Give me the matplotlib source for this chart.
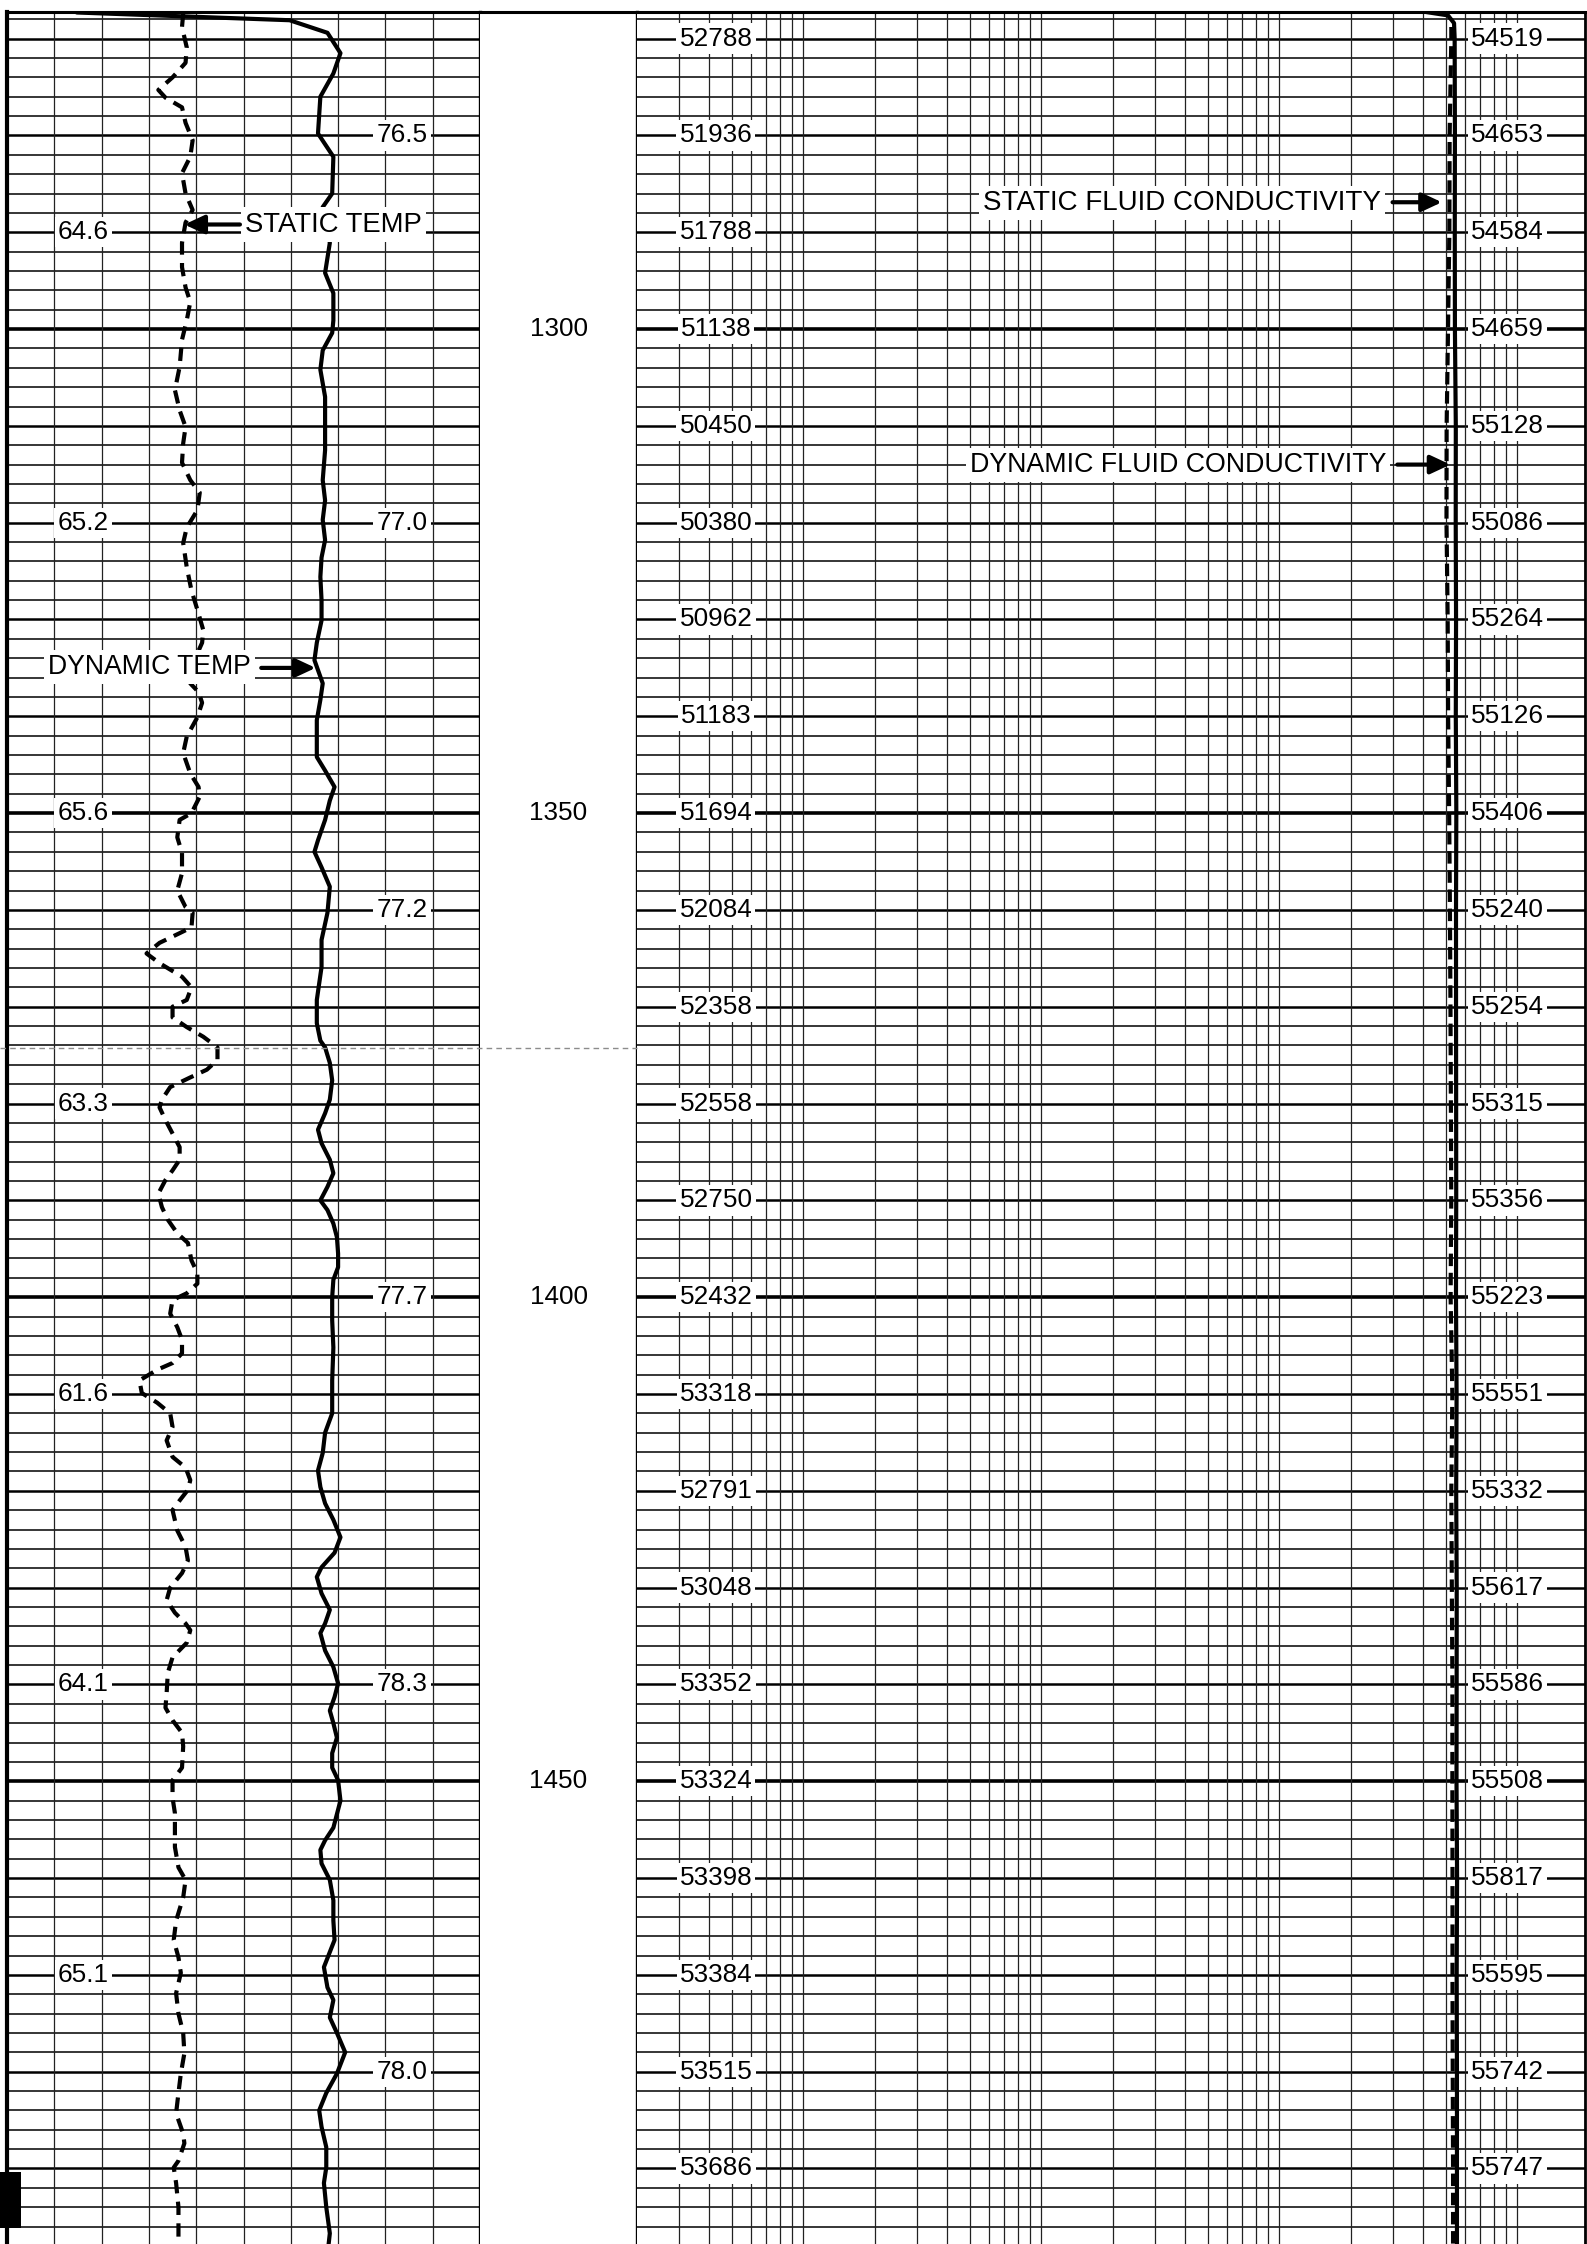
import matplotlib
matplotlib.use("Agg")
import matplotlib.pyplot as plt
import numpy as np
from matplotlib import transforms
from matplotlib.patches import Rectangle
from matplotlib.lines import Line2D

plt.rcParams['font.family'] = ['Liberation Sans', 'DejaVu Sans']

# Dynamic temperature (solid curve, left track, deg)
dyn_temp_depth = [1267.3, 1268.1, 1269.4, 1271.5, 1273.6, 1276.0, 1279.8, 1282.2, 1286.0, 1287.4,
                  1291.1, 1294.2, 1296.3, 1299.1, 1300.4, 1302.2, 1304.2, 1307.0, 1310.1, 1312.5,
                  1315.6, 1317.7, 1319.7, 1321.8, 1323.6, 1325.6, 1328.0, 1330.1, 1332.4, 1334.2,
                  1336.6, 1338.3, 1340.4, 1344.2, 1345.6, 1347.3, 1348.7, 1350.7, 1352.8, 1354.0,
                  1355.6, 1357.6, 1360.3, 1363.1, 1365.9, 1369.3, 1371.7, 1373.5, 1374.2, 1375.8,
                  1377.6, 1379.6, 1381.0, 1382.7, 1384.1, 1385.8, 1387.2, 1388.6, 1390.0, 1391.0,
                  1392.4, 1393.8, 1395.5, 1396.9, 1398.2, 1400.0, 1402.4, 1405.2, 1408.6, 1412.0,
                  1414.0, 1416.1, 1417.9, 1419.6, 1421.3, 1423.0, 1424.8, 1426.4, 1427.9, 1428.9,
                  1430.6, 1432.3, 1433.7, 1434.7, 1436.5, 1438.2, 1439.9, 1441.3, 1442.7, 1444.0,
                  1445.5, 1447.1, 1448.6, 1449.9, 1452.0, 1454.8, 1456.1, 1457.1, 1458.5, 1460.2,
                  1462.3, 1464.4, 1466.4, 1469.2, 1471.3, 1472.6, 1474.4, 1476.0, 1478.0, 1480.2,
                  1482.2, 1484.0, 1485.7, 1487.8, 1489.9, 1491.5, 1494.0, 1496.7, 1497.8]
dyn_temp = [55.9, 73.9, 77.1, 78.2, 77.6, 76.5, 76.3, 77.6, 77.5, 76.7,
            77.3, 76.9, 77.6, 77.6, 77.5, 76.7, 76.5, 76.9, 76.9, 76.9,
            76.7, 76.9, 76.7, 76.9, 76.6, 76.5, 76.6, 76.6, 76.2, 76.0,
            76.7, 76.5, 76.2, 76.2, 76.9, 77.7, 77.3, 76.9, 76.3, 76.0,
            76.6, 77.3, 77.1, 76.6, 76.6, 76.2, 76.2, 76.5, 76.9, 77.3,
            77.5, 77.3, 76.9, 76.3, 76.6, 77.3, 77.6, 77.1, 76.5, 77.1,
            77.6, 77.9, 78.0, 78.0, 77.6, 77.5, 77.5, 77.6, 77.5, 77.5,
            76.9, 76.7, 76.3, 76.5, 76.9, 77.6, 78.2, 77.7, 76.6, 76.2,
            76.6, 77.3, 76.9, 76.5, 76.9, 77.6, 78.0, 77.7, 77.3, 77.6,
            77.9, 77.5, 77.5, 78.0, 78.2, 77.6, 76.9, 76.5, 76.6, 77.3,
            77.6, 77.6, 77.7, 76.8, 77.1, 77.6, 77.3, 77.9, 78.6, 77.9,
            77.0, 76.4, 76.6, 77.0, 77.0, 76.8, 77.0, 77.3, 77.2]

# Static temperature (dashed curve, left track, deg)
stat_temp_depth = [1267.4, 1268.8, 1270.9, 1272.5, 1274.0, 1275.3, 1276.1, 1277.1, 1278.7, 1280.5,
                   1282.2, 1283.9, 1286.0, 1287.7, 1289.0, 1291.1, 1293.6, 1295.7, 1297.2, 1299.1,
                   1301.1, 1303.9, 1306.3, 1308.4, 1310.1, 1311.8, 1313.8, 1315.6, 1316.9, 1318.7,
                   1320.5, 1322.1, 1324.6, 1327.0, 1329.0, 1331.1, 1332.4, 1333.5, 1336.6, 1337.5,
                   1338.6, 1340.1, 1342.1, 1343.8, 1345.9, 1347.3, 1348.3, 1350.0, 1350.7, 1352.5,
                   1354.1, 1356.2, 1358.0, 1359.7, 1360.3, 1361.8, 1362.4, 1363.4, 1364.5, 1365.5,
                   1366.9, 1368.0, 1369.3, 1370.0, 1371.1, 1372.1, 1373.1, 1374.2, 1375.5, 1376.5,
                   1377.3, 1378.3, 1379.6, 1380.4, 1381.7, 1383.1, 1384.5, 1385.8, 1386.9, 1387.9,
                   1389.3, 1390.7, 1392.0, 1393.4, 1394.4, 1396.2, 1397.5, 1398.6, 1399.6, 1400.3,
                   1401.7, 1403.1, 1404.4, 1405.8, 1406.8, 1407.5, 1408.6, 1409.9, 1410.9, 1412.0,
                   1413.4, 1414.8, 1416.5, 1417.6, 1418.9, 1419.9, 1421.0, 1422.0, 1424.1, 1425.8,
                   1427.2, 1428.5, 1430.0, 1431.3, 1432.6, 1433.7, 1434.4, 1435.7, 1437.2, 1438.8,
                   1440.9, 1442.4, 1443.7, 1445.0, 1446.4, 1448.6, 1449.9, 1451.7, 1453.3, 1455.1,
                   1456.8, 1458.9, 1460.2, 1462.0, 1463.6, 1464.4, 1466.4, 1468.2, 1469.8, 1471.9,
                   1474.0, 1476.0, 1478.1, 1480.2, 1482.2, 1484.3, 1486.4, 1487.4, 1489.2, 1489.9,
                   1491.5, 1494.0, 1496.7, 1497.8]
stat_temp = [64.9, 64.8, 65.2, 65.1, 64.0, 62.8, 63.4, 64.8, 65.1, 65.7,
             65.5, 64.8, 65.1, 65.7, 65.1, 64.8, 64.8, 65.1, 65.5, 65.2,
             64.8, 64.6, 64.2, 64.6, 65.1, 64.9, 64.8, 65.5, 66.3, 66.1,
             65.2, 64.9, 65.2, 65.6, 66.1, 66.6, 66.5, 66.1, 65.5, 66.2,
             66.5, 66.1, 65.2, 64.9, 65.5, 66.2, 66.3, 65.6, 64.6, 64.4,
             64.8, 64.8, 64.4, 65.1, 65.7, 65.6, 64.6, 62.9, 61.8, 62.9,
             64.8, 65.6, 65.2, 64.0, 64.0, 65.2, 66.6, 67.8, 67.8, 66.9,
             65.5, 63.8, 63.1, 62.9, 63.4, 64.0, 64.6, 64.6, 64.0, 63.4,
             62.8, 63.1, 63.6, 64.4, 65.3, 65.6, 66.1, 66.1, 65.2, 64.0,
             63.8, 64.4, 64.8, 64.8, 64.0, 62.7, 61.2, 61.4, 62.7, 63.8,
             64.0, 63.5, 64.0, 65.1, 65.5, 65.3, 64.6, 64.0, 64.4, 65.1,
             65.3, 64.8, 63.8, 63.5, 64.2, 65.1, 65.5, 65.2, 64.0, 63.6,
             63.5, 63.4, 64.0, 64.8, 64.9, 64.8, 64.0, 64.0, 64.2, 64.2,
             64.2, 64.5, 65.1, 64.9, 64.5, 64.3, 64.1, 64.5, 64.7, 64.3,
             64.5, 64.9, 65.0, 64.7, 64.5, 64.3, 64.9, 65.0, 64.5, 64.1,
             64.3, 64.5, 64.5, 64.5]

# Temperature labels printed on the log
stat_label_depth = [1290, 1320, 1350, 1380, 1410, 1440, 1470]
stat_label_text = ["64.6", "65.2", "65.6", "63.3", "61.6", "64.1", "65.1"]
dyn_label_depth = [1280, 1320, 1360, 1400, 1440, 1480]
dyn_label_text = ["76.5", "77.0", "77.2", "77.7", "78.3", "78.0"]

# Fluid conductivity (right track, log scale) at every 10 ft
cond_depth = [1270, 1280, 1290, 1300, 1310, 1320, 1330, 1340, 1350, 1360, 1370, 1380,
              1390, 1400, 1410, 1420, 1430, 1440, 1450, 1460, 1470, 1480, 1490]
static_cond = [52788, 51936, 51788, 51138, 50450, 50380, 50962, 51183, 51694, 52084, 52358, 52558,
               52750, 52432, 53318, 52791, 53048, 53352, 53324, 53398, 53384, 53515, 53686]
dynamic_cond = [54519, 54653, 54584, 54659, 55128, 55086, 55264, 55126, 55406, 55240, 55254, 55315,
                55356, 55223, 55551, 55332, 55617, 55586, 55508, 55817, 55595, 55742, 55747]
# start / end of the conductivity traces
dyn_cond_top_depth = [1267.25, 1267.6, 1268.4]
dyn_cond_top = [41300, 51100, 54200]
stat_cond_top_depth = [1268.8]
stat_cond_top = [52788]
cond_end_depth = 1497.8

depth_labels = [1300, 1350, 1400, 1450]

# ---------------- layout ----------------
W, H = 1587, 2244
fig = plt.figure(figsize=(W / 100, H / 100), dpi=100)
TOP_PX = 12
D_TOP, D_BOT = 1267.25, 1497.8


def rect(x0, x1):
    return [x0 / W, 0, (x1 - x0) / W, (H - TOP_PX) / H]


axL = fig.add_axes(rect(7, 480))
axD = fig.add_axes(rect(480, 637))
axR = fig.add_axes(rect(637, 1585))

axL.set_xlim(50, 90)
axD.set_xlim(0, 1)
axR.set_xscale('log')
axR.set_xlim(20, 20 * 10 ** ((1585 - 637) / 238.0))

for ax in (axL, axD, axR):
    ax.set_ylim(D_BOT, D_TOP)
    ax.tick_params(which='both', bottom=False, left=False, top=False, right=False,
                   labelbottom=False, labelleft=False)
    ax.spines['bottom'].set_visible(False)
    ax.spines['top'].set_linewidth(2.2)
    for s in ax.spines.values():
        s.set_color('black')

axL.spines['left'].set_linewidth(3.0)
axL.spines['right'].set_linewidth(2.4)
axD.spines['left'].set_visible(False)
axD.spines['right'].set_linewidth(2.4)
axR.spines['left'].set_visible(False)
axR.spines['right'].set_linewidth(2.0)

# ---------------- grid ----------------
grid_depths = np.arange(1268, 1498, 2)
for ax in (axL, axR):
    for d in grid_depths:
        if d % 50 == 0:
            lw = 2.6
        elif d % 10 == 0:
            lw = 1.8
        else:
            lw = 1.1
        ax.axhline(d, color='black', lw=lw, zorder=1)

for t in range(54, 90, 4):
    axL.axvline(t, color='#222222', lw=0.9, zorder=1)

log_lines = [m * 10 ** k for k in range(1, 6) for m in range(1, 10)]
for v in log_lines:
    if 20 < v < 194000:
        axR.axvline(v, color='#222222', lw=0.9, zorder=1)

# ---------------- curves ----------------
axL.plot(dyn_temp, dyn_temp_depth, color='black', lw=3.0, zorder=3,
         solid_joinstyle='round', solid_capstyle='round')
axL.plot(stat_temp, stat_temp_depth, color='black', lw=3.0, zorder=3,
         linestyle=(0, (3.2, 2.0)))

dyn_c_d = dyn_cond_top_depth + cond_depth + [cond_end_depth]
dyn_c_v = dyn_cond_top + dynamic_cond + [dynamic_cond[-1]]
st_c_d = stat_cond_top_depth + cond_depth + [cond_end_depth]
st_c_v = stat_cond_top + static_cond + [static_cond[-1]]
axR.plot(dyn_c_v, dyn_c_d, color='black', lw=3.0, zorder=3, solid_joinstyle='round')
axR.plot(st_c_v, st_c_d, color='black', lw=3.0, zorder=3, linestyle=(0, (3.0, 1.6)))

# ---------------- labels ----------------
num_fs = 18.8
box = dict(boxstyle='square,pad=0.12', fc='white', ec='none')
tL = transforms.blended_transform_factory(axL.transAxes, axL.transData)
tR = transforms.blended_transform_factory(axR.transAxes, axR.transData)
tD = transforms.blended_transform_factory(axD.transAxes, axD.transData)

for d, s in zip(stat_label_depth, stat_label_text):
    axL.text(0.161, d, s, transform=tL, ha='center', va='center', fontsize=num_fs,
             bbox=box, zorder=5)
for d, s in zip(dyn_label_depth, dyn_label_text):
    axL.text(0.835, d, s, transform=tL, ha='center', va='center', fontsize=num_fs,
             bbox=box, zorder=5)

for d, a, b in zip(cond_depth, static_cond, dynamic_cond):
    axR.text(0.0833, d, str(a), transform=tR, ha='center', va='center', fontsize=num_fs,
             bbox=box, zorder=5)
    axR.text(0.918, d, str(b), transform=tR, ha='center', va='center', fontsize=num_fs,
             bbox=box, zorder=5)

for d in depth_labels:
    axD.text(0.5, d, str(d), transform=tD, ha='center', va='center', fontsize=num_fs)

# ---------------- annotations ----------------
abox = dict(boxstyle='square,pad=0.15', fc='white', ec='none')
arrow = dict(arrowstyle='-|>,head_length=0.6,head_width=0.28', lw=3.0, color='black',
             shrinkA=0, shrinkB=0, mutation_scale=20)

axL.text(70.1, 1289.2, 'STATIC TEMP', ha='left', va='center', fontsize=19.8,
         bbox=abox, zorder=6)
axL.annotate('', xy=(65.0, 1289.2), xytext=(69.7, 1289.2), arrowprops=arrow, zorder=7)

axL.text(53.5, 1334.9, 'DYNAMIC TEMP', ha='left', va='center', fontsize=19.2,
         bbox=abox, zorder=6)
axL.annotate('', xy=(76.1, 1335.0), xytext=(71.5, 1335.0), arrowprops=arrow, zorder=7)

axR.text(0.365, 1287.0, 'STATIC FLUID CONDUCTIVITY', transform=tR, ha='left', va='center',
         fontsize=20.0, bbox=abox, zorder=6)
axR.annotate('', xy=(0.849, 1286.9), xytext=(0.797, 1286.9), xycoords=tR, textcoords=tR,
             arrowprops=arrow, zorder=7)

axR.text(0.351, 1314.05, 'DYNAMIC FLUID CONDUCTIVITY', transform=tR, ha='left', va='center',
         fontsize=19.3, bbox=abox, zorder=6)
axR.annotate('', xy=(0.858, 1314.0), xytext=(0.802, 1314.0), xycoords=tR, textcoords=tR,
             arrowprops=arrow, zorder=7)

# ---------------- scan artefacts ----------------
fig.add_artist(Line2D([0, 637 / W], [1 - 1048 / H, 1 - 1048 / H], transform=fig.transFigure,
                      color='0.55', lw=1.0, linestyle=(0, (4, 3)), zorder=10))
fig.add_artist(Rectangle((0, 1 - 2228 / H), 21 / W, 56 / H, transform=fig.transFigure,
                         facecolor='black', edgecolor='none', zorder=10))

fig.savefig('out.png', dpi=100)
